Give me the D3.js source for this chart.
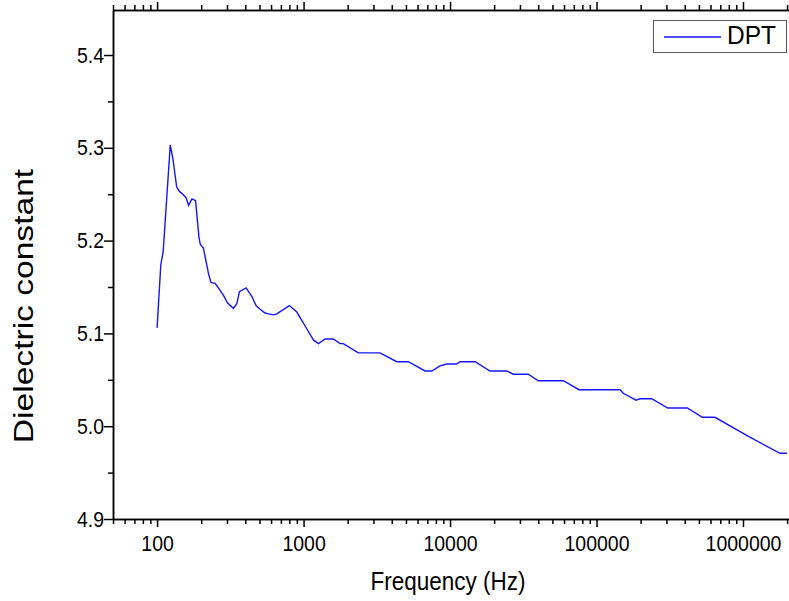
<!DOCTYPE html>
<html>
<head>
<meta charset="utf-8">
<script src="https://cdn.jsdelivr.net/npm/d3@7"></script>
<style>
  body { margin: 0; background: #fff; }
  svg { display: block; font-family: "Liberation Sans", Arial, sans-serif; }
</style>
</head>
<body>
<div id="container"></div>
<script>
/* CONSTANTS AND GLOBALS */
const width = 789;
const height = 601;
const plotLeft = 113, plotRight = 800, plotTop = 10, plotBottom = 519;
const stretch = 1.15; // the source picture looks a bit stretched vertically

/* DATA */
const frequency = [100, 106, 110, 123, 128, 136, 142, 150, 158, 164, 173, 183, 193, 197, 207,
  224, 233, 249, 262, 284, 302, 332, 350, 365, 405, 443, 474, 505, 546, 575, 622, 656,
  800, 899, 972, 1052, 1167, 1263, 1403, 1598, 1775, 1869, 2366, 3327, 4325, 5193, 6747,
  7498, 8546, 9495, 11110, 11700, 14810, 18750, 24380, 27050, 34230, 40060, 59340, 75940,
  144700, 152400, 186000, 198100, 238200, 306200, 416800, 527600, 644100, 1059000,
  1789000, 1995000];
const dielectric = [5.106, 5.174, 5.188, 5.303, 5.289, 5.258, 5.253, 5.250, 5.246, 5.238, 5.245,
  5.243, 5.204, 5.196, 5.192, 5.165, 5.155, 5.154, 5.149, 5.141, 5.133, 5.127, 5.132,
  5.145, 5.149, 5.140, 5.130, 5.126, 5.122, 5.121, 5.120, 5.121, 5.130, 5.123, 5.114,
  5.105, 5.093, 5.089, 5.094, 5.094, 5.089, 5.089, 5.079, 5.079, 5.0695, 5.0695, 5.0595,
  5.0595, 5.065, 5.067, 5.067, 5.0695, 5.0695, 5.0595, 5.0595, 5.056, 5.056, 5.049,
  5.049, 5.0393, 5.0393, 5.0355, 5.028, 5.0296, 5.0296, 5.0196, 5.0196, 5.0096, 5.0096,
  4.990, 4.9708, 4.9708];
const xMajorTicks = [100, 1000, 10000, 100000, 1000000];
const yMajorTicks = [4.9, 5.0, 5.1, 5.2, 5.3, 5.4];
const yMinorTicks = [4.95, 5.05, 5.15, 5.25, 5.35];
const seriesName = "DPT";

const data = frequency.map((f, i) => ({ f: f, v: dielectric[i] }));

/* SCALES */
const xScale = d3.scaleLog()
  .domain([50, 2.45e6])
  .range([plotLeft, plotRight]);

const yScale = d3.scaleLinear()
  .domain([4.9, 5.4485])
  .range([plotBottom, plotTop]);

// minor log ticks 2..9 per decade
const xMinorTicks = [];
for (let p = 1; p <= 6; p++) {
  for (let m = 2; m <= 9; m++) {
    const t = m * Math.pow(10, p);
    if (t >= 50 && t <= 2.45e6) xMinorTicks.push(t);
  }
}

/* HTML ELEMENTS */
const svg = d3.select("#container")
  .append("svg")
  .attr("width", width)
  .attr("height", height);

// line
svg.append("path")
  .datum(data)
  .attr("fill", "none")
  .attr("stroke", "#1414ff")
  .attr("stroke-width", 1.4)
  .attr("d", d3.line().x(d => xScale(d.f)).y(d => yScale(d.v)));

// bottom axis
const xAxis = svg.append("g")
  .attr("transform", `translate(0,${plotBottom})`)
  .call(d3.axisBottom(xScale).tickValues(xMajorTicks).tickSize(8).tickSizeOuter(0).tickPadding(6)
    .tickFormat(d3.format("d")));
svg.append("g")
  .attr("transform", `translate(0,${plotBottom})`)
  .call(d3.axisBottom(xScale).tickValues(xMinorTicks).tickSize(5).tickSizeOuter(0).tickFormat(""));

// top axis (ticks only)
svg.append("g")
  .attr("transform", `translate(0,${plotTop})`)
  .call(d3.axisTop(xScale).tickValues(xMajorTicks).tickSize(8).tickSizeOuter(0).tickFormat(""));
svg.append("g")
  .attr("transform", `translate(0,${plotTop})`)
  .call(d3.axisTop(xScale).tickValues(xMinorTicks).tickSize(5).tickSizeOuter(0).tickFormat(""));

// left axis
const yAxis = svg.append("g")
  .attr("transform", `translate(${plotLeft},0)`)
  .call(d3.axisLeft(yScale).tickValues(yMajorTicks).tickSize(9).tickSizeOuter(0).tickPadding(0)
    .tickFormat(d3.format(".1f")));
svg.append("g")
  .attr("transform", `translate(${plotLeft},0)`)
  .call(d3.axisLeft(yScale).tickValues(yMinorTicks).tickSize(5).tickSizeOuter(0).tickFormat(""));

svg.selectAll(".domain, .tick line")
  .attr("stroke", "#000")
  .attr("stroke-width", 1.5);
svg.selectAll(".tick text")
  .attr("fill", "#000")
  .attr("transform", `scale(1,${stretch})`)
  .style("font-size", "19.5px")
  .style("font-family", "Liberation Sans, Arial, sans-serif");

// axis titles
svg.append("text")
  .attr("transform", `translate(448,590) scale(1,${stretch})`)
  .attr("text-anchor", "middle")
  .style("font-size", "22.5px")
  .text("Frequency (Hz)");

svg.append("text")
  .attr("transform", `translate(33,306) rotate(-90) scale(1.2,1)`)
  .attr("text-anchor", "middle")
  .style("font-size", "28px")
  .text("Dielectric constant");

// legend
const legend = svg.append("g");
legend.append("rect")
  .attr("x", 653.5).attr("y", 20.5)
  .attr("width", 133).attr("height", 32)
  .attr("fill", "#fff")
  .attr("stroke", "#555")
  .attr("stroke-width", 1);
legend.append("line")
  .attr("x1", 664).attr("x2", 721)
  .attr("y1", 37).attr("y2", 37)
  .attr("stroke", "#1414ff")
  .attr("stroke-width", 1.5);
legend.append("text")
  .attr("transform", "translate(727,44) scale(1,1.06)")
  .style("font-size", "24.5px")
  .text(seriesName);
</script>
</body>
</html>
